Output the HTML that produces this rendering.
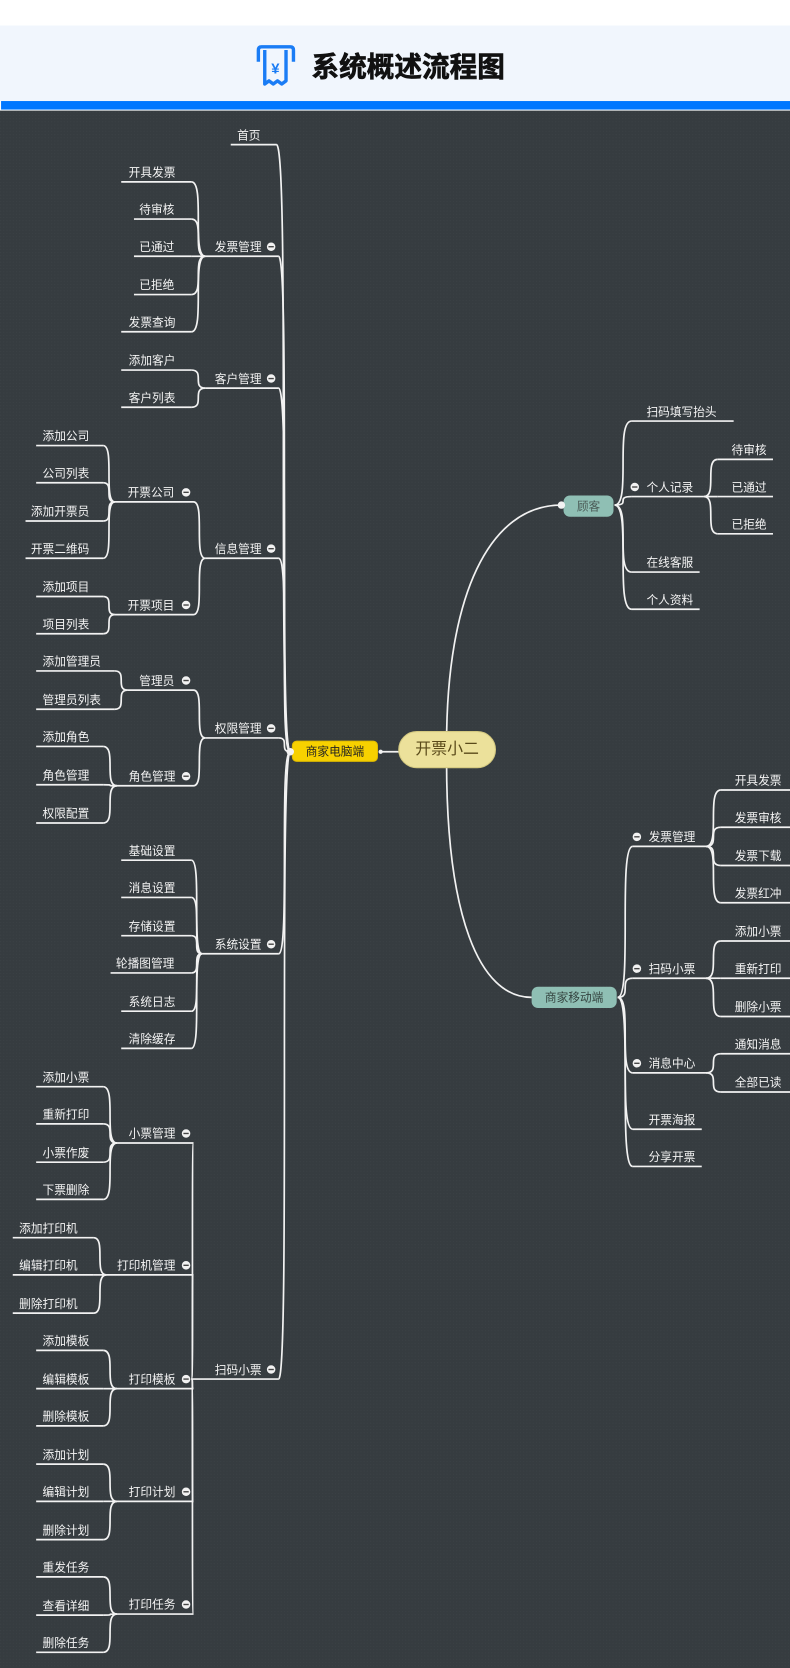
<!DOCTYPE html>
<html><head><meta charset="utf-8">
<style>
html,body{margin:0;padding:0;background:#fff;}
svg{display:block;}
text{font-family:"Liberation Sans","Noto Sans CJK SC",sans-serif;}
</style></head>
<body>
<svg id="s" width="790" height="1668" viewBox="0 0 743 1568.7" xmlns="http://www.w3.org/2000/svg">
<defs>
<pattern id="dots" width="3" height="3" patternUnits="userSpaceOnUse">
<rect width="3" height="3" fill="#363c40"/><rect width="1" height="1" fill="#3b4145"/>
</pattern>
</defs>
<rect x="0" y="0" width="743" height="24" fill="#fff"/>
<rect x="0" y="24" width="743" height="71" fill="#f1f6fd"/>
<rect x="1" y="95" width="742" height="8" fill="#0077ff"/>
<rect x="0" y="104" width="743" height="1465" fill="url(#dots)"/>
<g fill="none" stroke="#1a7cf5" stroke-width="3.2" stroke-linejoin="round">
<path d="M243 58 V47 Q243 44 246 44 H273 Q276 44 276 47 V58"/>
<path d="M249 47 V79 L253 76 L257 79 L261 76 L265 79 L269 76 V47"/>
</g>
<text x="259" y="69" font-size="14" font-weight="bold" fill="#1a7cf5" text-anchor="middle">¥</text>
<text x="293" y="72" font-size="26" font-weight="bold" fill="#111" stroke="#111" stroke-width="0.6">系统概述流程图</text>
<g id="g"></g>
</svg>
<script>
var g=document.getElementById('g'),h='';
function line(d){h+='<path d="'+d+'" fill="none" stroke="#f2f2f2" stroke-width="1.6"/>';}
function txt(x,y,t,fs,c,a){h+='<text x="'+x+'" y="'+(y+4)+'" font-size="'+(fs||11)+'" fill="'+(c||'#f4f4f4')+'"'+(a?' text-anchor="middle"':'')+'>'+t+'</text>';}
function circ(x,y){h+='<circle cx="'+x+'" cy="'+y+'" r="4" fill="#f2f2f2"/><line x1="'+(x-2.5)+'" y1="'+y+'" x2="'+(x+2.5)+'" y2="'+y+'" stroke="#444" stroke-width="1.3"/>';}
function left(n,px,py){
  var t=n[0],tx=n[1],y=n[2],l=n[3],r=n[4],cx=n[5],k=n[6],uy=y+9;
  txt(tx,y,t); if(cx) circ(cx,y);
  line('M'+l+' '+uy+' H'+r);
  line('M'+r+' '+uy+' C'+px+' '+uy+' '+r+' '+py+' '+px+' '+py);
  if(k) k.forEach(function(c){left(c,l,uy);});
}
function right(n,px,py){
  var t=n[0],tx=n[1],y=n[2],l=n[3],r=n[4],cx=n[5],k=n[6],uy=y+9;
  txt(tx,y,t); if(cx) circ(cx,y);
  line('M'+l+' '+uy+' H'+r);
  line('M'+px+' '+py+' C'+l+' '+py+' '+px+' '+uy+' '+l+' '+uy);
  if(k) k.forEach(function(c){right(c,r,uy);});
}
function L3(names,ys,x,l,r){return names.map(function(t,i){return [t,x,ys[i],l,r,0];});}
var leftTree=[
 ['首页',223,127,217,260,0],
 ['发票管理',202,232,193,262,255,[
   ['开具发票',121,162,114,180,0],['待审核',131,197,126,180,0],['已通过',131,232,126,180,0],['已拒绝',131,268,126,180,0],['发票查询',121,303,114,180,0]]],
 ['客户管理',202,356,193,262,255,[['添加客户',121,339,114,180,0],['客户列表',121,374,114,180,0]]],
 ['信息管理',202,516,193,262,255,[
   ['开票公司',120,463,108,182,175,[['添加公司',40,410,34,97,0],['公司列表',40,445,34,97,0],['添加开票员',29,481,24,97,0],['开票二维码',29,516,24,97,0]]],
   ['开票项目',120,569,108,182,175,[['添加项目',40,552,34,97,0],['项目列表',40,587,34,97,0]]]]],
 ['权限管理',202,685,193,262,255,[
   ['管理员',131,640,120,182,175,[['添加管理员',40,622,34,108,0],['管理员列表',40,658,34,108,0]]],
   ['角色管理',121,730,110,182,175,[['添加角色',40,693,34,97,0],['角色管理',40,729,34,97,0],['权限配置',40,765,34,97,0]]]]],
 ['系统设置',202,888,190,262,255,[
   ['基础设置',121,800,114,180,0],['消息设置',121,835,114,180,0],['存储设置',121,871,114,180,0],['轮播图管理',109,906,104,180,0],['系统日志',121,942,114,180,0],['清除缓存',121,977,114,180,0]]],
 ['扫码小票',202,1288,180,262,255,[
   ['小票管理',121,1066,110,182,175,L3(['添加小票','重新打印','小票作废','下票删除'],[1013,1048,1084,1119],40,34,97)],
   ['打印机管理',110,1190,100,182,175,L3(['添加打印机','编辑打印机','删除打印机'],[1155,1190,1226],18,12,88)],
   ['打印模板',121,1297,110,182,175,L3(['添加模板','编辑模板','删除模板'],[1261,1297,1332],40,34,97)],
   ['打印计划',121,1403,110,182,175,L3(['添加计划','编辑计划','删除计划'],[1368,1403,1439],40,34,97)],
   ['打印任务',121,1509,110,182,175,L3(['重发任务','查看详细','删除任务'],[1474,1510,1545],40,34,97)]]]
];
leftTree.forEach(function(n){left(n,273,707);});
var r1=[
 ['扫码填写抬头',608,387,594,690,0],
 ['个人记录',608,458,594,662,597,L3(['待审核','已通过','已拒绝'],[423,458,493],688,675,727)],
 ['在线客服',608,529,594,658,0],
 ['个人资料',608,564,594,658,0]];
r1.forEach(function(n){right(n,578,475);});
var r2=[
 ['发票管理',610,787,595,664,599,L3(['开具发票','发票审核','发票下载','发票红冲'],[734,769,805,840],691,678,743)],
 ['扫码小票',610,911,595,664,599,L3(['添加小票','重新打印','删除小票'],[876,911,947],691,678,743)],
 ['消息中心',610,1000,595,664,599,L3(['通知消息','全部已读'],[982,1018],691,678,743)],
 ['开票海报',610,1053,595,660,0],
 ['分享开票',610,1088,595,660,0]];
r2.forEach(function(n){right(n,581,938);});
line('M420 700 C420 560 460 475 528 475');
line('M420 716 C420 860 450 938 500 938');
line('M357 707 H376');
h+='<rect x="275" y="697" width="80" height="19" rx="4" fill="#f7d100" stroke="#e0bb00"/>';
txt(315,706.5,'商家电脑端',11,'#222',1);
h+='<circle cx="273" cy="707" r="3.5" fill="#f2f2f2"/>';
h+='<rect x="375" y="688" width="91" height="34" rx="17" fill="#ece19b" stroke="#d4c980"/>';
txt(420.5,705,'开票小二',15,'#5a4a1a',1);
h+='<rect x="530" y="466" width="47" height="20" rx="6" fill="#8fbfb4"/>';
txt(553.5,476,'顾客',11,'#4a5a56',1);
h+='<circle cx="528" cy="475" r="3.5" fill="#f2f2f2"/>';
h+='<rect x="500" y="928" width="80" height="20" rx="6" fill="#8fbfb4"/>';
txt(540,938,'商家移动端',11,'#34433f',1);
h+='<circle cx="358" cy="707" r="2" fill="#f2f2f2"/>';
g.innerHTML=h;
</script>
</body></html>
